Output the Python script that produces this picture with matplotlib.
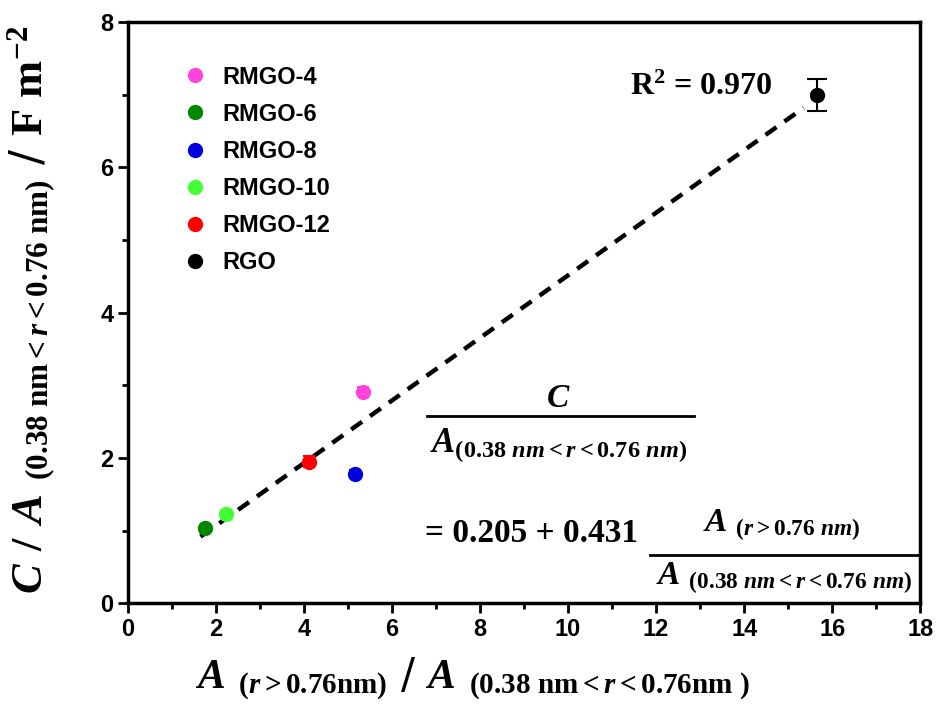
import matplotlib
matplotlib.use("Agg")
import matplotlib.pyplot as plt
import numpy as np
from matplotlib.ticker import MultipleLocator
from matplotlib.lines import Line2D

# data
labels = ["RMGO-4", "RMGO-6", "RMGO-8", "RMGO-10", "RMGO-12", "RGO"]
colors = ["#ff44dd", "#008800", "#0000dd", "#44ff33", "#ff0000", "#000000"]
x_vals = [5.35, 1.75, 5.15, 2.22, 4.12, 15.65]
y_vals = [2.91, 1.03, 1.78, 1.23, 1.95, 7.00]
y_err = [0.06, 0.05, 0.05, 0.05, 0.07, 0.22]

# linear fit shown in the figure
intercept = 0.205
slope = 0.431
fit_range = [1.65, 15.35]

plt.rcParams["mathtext.fontset"] = "custom"
plt.rcParams["mathtext.rm"] = "Liberation Serif:bold"
plt.rcParams["mathtext.it"] = "Liberation Serif:bold:italic"
plt.rcParams["mathtext.bf"] = "Liberation Serif:bold"

fig = plt.figure(figsize=(9.4, 7.18), dpi=100)
ax = fig.add_axes([0.136, 0.160, 0.843, 0.809])

xf = np.array(fit_range)
ax.plot(xf, intercept + slope * xf, ls=(0, (3, 2.2)), color="black", lw=3.2, zorder=1)

handles = []
for lab, c, x, y, e in zip(labels, colors, x_vals, y_vals, y_err):
    ax.errorbar(x, y, yerr=e, fmt="o", color=c, ms=10, capsize=7 if lab == "RGO" else 4,
                elinewidth=1.5, capthick=1.5, zorder=3)
    handles.append(Line2D([], [], ls="none", marker="o", color=c, ms=10, label=lab))

ax.set_xlim(0, 18)
ax.set_ylim(0, 8)
ax.xaxis.set_major_locator(MultipleLocator(2))
ax.xaxis.set_minor_locator(MultipleLocator(1))
ax.yaxis.set_major_locator(MultipleLocator(2))
ax.yaxis.set_minor_locator(MultipleLocator(1))
ax.tick_params(which="both", direction="out", top=False, right=False, width=2)
ax.tick_params(which="major", length=7)
ax.tick_params(which="minor", length=4)
for sp in ax.spines.values():
    sp.set_linewidth(2.5)
for t in ax.get_xticklabels() + ax.get_yticklabels():
    t.set_fontfamily("Liberation Sans")
    t.set_fontweight("bold")
    t.set_fontsize(17)

ax.set_xlabel(r"$A$ $_{\rm (\mathit{r} > 0.76nm)}$ / $A$ $_{\rm (0.38\ nm < \mathit{r} < 0.76nm\ )}$",
              fontsize=30)
ax.xaxis.set_label_coords(0.435, -0.09)
ax.set_ylabel(r"$C$ $/$ $A$ $_{\rm (0.38\ nm < \mathit{r} < 0.76\ nm)}$ / $\rm F\ m^{-2}$",
              fontsize=32)
ax.yaxis.set_label_coords(-0.088, 0.505)

ax.legend(handles=handles, loc="upper left", bbox_to_anchor=(0.04, 0.962), frameon=False,
          handletextpad=0.55, labelspacing=0.6, handlelength=1.2,
          prop={"family": "Liberation Sans", "weight": "bold", "size": 17})

ax.text(0.814, 0.888, r"$\rm R^2$ = 0.970", transform=ax.transAxes, ha="right",
        va="center", fontsize=23, family="Liberation Serif", fontweight="bold")

# equation block, fractions built from pieces
eq_size = 24
ax.text(0.543, 0.3546, r"$C$", transform=ax.transAxes, ha="center", va="center",
        fontsize=eq_size)
ax.add_line(Line2D([0.378, 0.714], [0.322, 0.322], transform=ax.transAxes,
                   color="black", lw=2, clip_on=False))
ax.text(0.5436, 0.272, r"$A_{(0.38\ nm<r<0.76\ nm)}$", transform=ax.transAxes,
        ha="center", va="center", fontsize=25)

ax.text(0.375, 0.1205, "= 0.205 + 0.431", transform=ax.transAxes, ha="left",
        va="center", fontsize=eq_size, family="Liberation Serif", fontweight="bold")
ax.text(0.825, 0.134, r"$A\ _{(r>0.76\ nm)}$", transform=ax.transAxes,
        ha="center", va="center", fontsize=eq_size)
ax.add_line(Line2D([0.659, 1.0], [0.0826, 0.0826], transform=ax.transAxes,
                   color="black", lw=2, clip_on=False))
ax.text(0.8277, 0.043, r"$A\ _{(0.38\ nm<r<0.76\ nm)}$", transform=ax.transAxes,
        ha="center", va="center", fontsize=eq_size)

fig.savefig("out.png", dpi=100)
